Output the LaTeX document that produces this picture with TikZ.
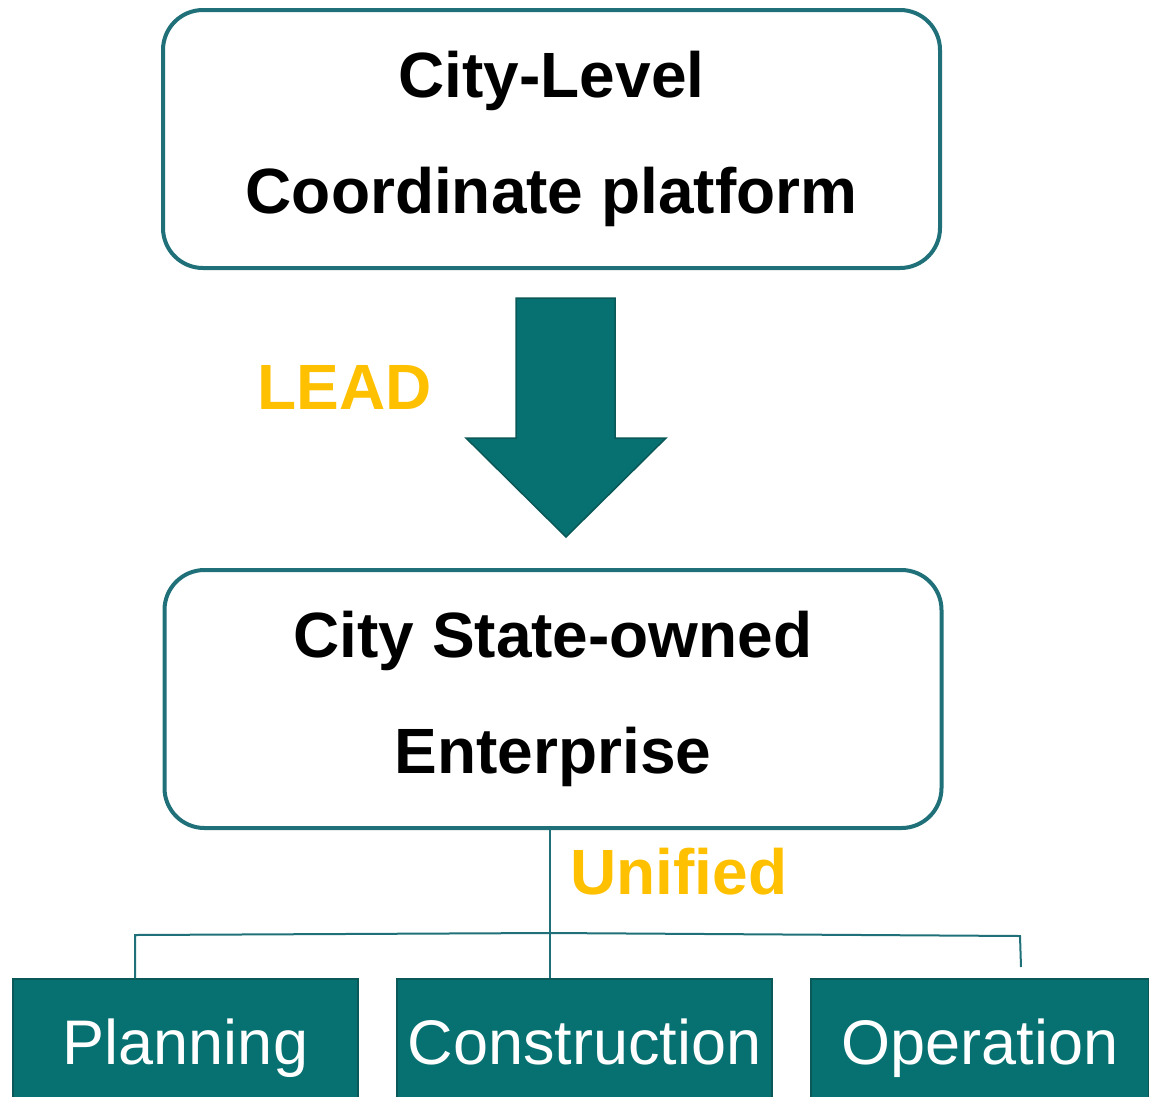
\documentclass[tikz,border=0pt]{standalone}
\usepackage{fontspec}
\setmainfont{Liberation Sans}
\usepackage{tikz}
\usetikzlibrary{calc}
\definecolor{tealfill}{RGB}{7,113,113}
\definecolor{tealedge}{RGB}{31,112,120}
\definecolor{tealdark}{RGB}{10,88,88}
\definecolor{leadgold}{RGB}{255,192,0}
\tikzset{level box/.style={draw=tealedge,line width=4pt,rounded corners=40pt,fill=white,minimum width=777pt,minimum height=258pt,align=center,font=\fontsize{64}{116}\selectfont\bfseries,text=black,inner sep=0}}
\tikzset{task box/.style={draw=tealdark,line width=1.5pt,fill=tealfill,minimum height=138pt,text height=46pt,text depth=13pt,text=white,font=\fontsize{63}{70}\selectfont,inner sep=0}}
\tikzset{note label/.style={text=leadgold,font=\fontsize{64}{70}\selectfont\bfseries,inner sep=0}}
\tikzset{tree line/.style={draw=tealedge,line width=2pt}}

\begin{document}
\begin{tikzpicture}[x=1pt,y=-1pt]
          \useasboundingbox (0,0) rectangle (1149,1096);

          %上の箱
          \node[level box] (city) at (551.5,139) {City-Level\\Coordinate platform};

          %矢印
          \fill[color=tealfill, draw=tealdark, line width=1.5pt] (516,298) -- (615,298) -- (615,438) -- (666,438) -- (566,537) -- (466,438) -- (516,438) -- cycle;
          \node[note label] (lead) at (345,387) {LEAD};

          %中の箱
          \node[level box] (ent) at (553,699) {City State-owned\\Enterprise};
          \node[note label] (unified) at (679,872) {Unified};

          %下の箱
          \node[task box, minimum width=345pt] (plan) at (185.5,1048) {Planning};
          \node[task box, minimum width=375pt] (cons) at (584.5,1048) {Construction};
          \node[task box, minimum width=338pt] (oper) at (980,1048) {Operation};

          %枝
          \coordinate (split) at (550,933);
          \coordinate (lft) at (135,935);
          \coordinate (rgt) at (1020,936);
          \coordinate (rgtend) at (1021,967);
          \draw[tree line] (ent.south -| split) -- (cons.north -| split);
          \draw[tree line] (plan.north -| lft) -- (lft) -- (split) -- (rgt) -- (rgtend);

        \end{tikzpicture}
\end{document}
